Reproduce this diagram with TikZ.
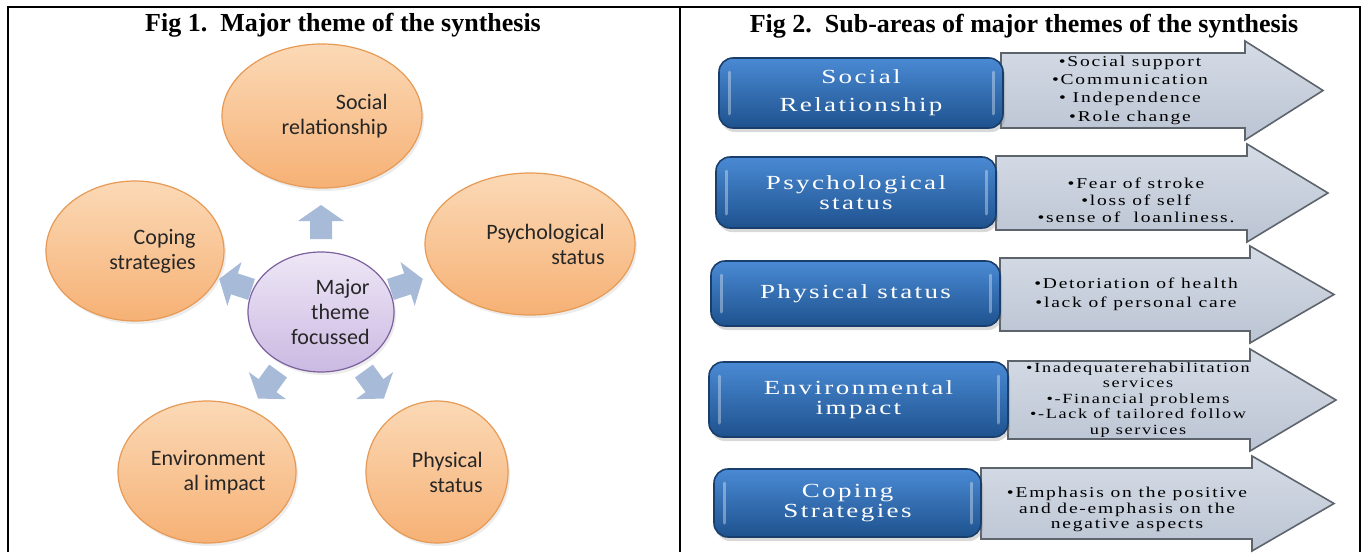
\documentclass[tikz,border=0pt]{standalone}
\usepackage{fontspec}
\setmainfont{Liberation Serif}
\newfontfamily\calibri{Carlito}
\newfontfamily\boxfont[FakeStretch=1.35,LetterSpace=12]{Liberation Serif}
\newfontfamily\listfont[FakeStretch=1.3,LetterSpace=12]{Liberation Serif}
\usetikzlibrary{shapes.geometric,calc,shadows}

\definecolor{peach}{HTML}{FBD9B6}
\definecolor{peachdark}{HTML}{F6B175}
\definecolor{peachline}{HTML}{E69A55}
\definecolor{lilac}{HTML}{EEE7F6}
\definecolor{lilacdark}{HTML}{CBB9E2}
\definecolor{lilacline}{HTML}{7B5F9E}
\definecolor{spokeblue}{HTML}{A7BAD8}
\definecolor{boxtop}{HTML}{4A8AD4}
\definecolor{boxbottom}{HTML}{1E528E}
\definecolor{boxline}{HTML}{1A3E6B}
\definecolor{arrtop}{HTML}{D5DCE6}
\definecolor{arrmid}{HTML}{EEF1F6}
\definecolor{arrbottom}{HTML}{BBC4D3}
\definecolor{arrline}{HTML}{5E646C}

\tikzset{
themecirc/.style={ellipse, inner sep=0pt, draw=peachline, line width=.6pt,
  top color=peach, bottom color=peachdark,
  drop shadow={opacity=.15, shadow xshift=1pt, shadow yshift=-1.5pt}},
hubcirc/.style={themecirc, draw=lilacline, top color=lilac, bottom color=lilacdark},
themetext/.style={font=\calibri\fontsize{11}{12.5}\selectfont, text=black!85,
  align=right, anchor=east, inner sep=0pt},
figtitle/.style={font=\bfseries\fontsize{13}{15}\selectfont, anchor=base, inner sep=0pt},
themebox/.style={rounded corners=7pt, inner sep=0pt, draw=boxline, line width=.8pt,
  top color=boxtop, bottom color=boxbottom, text=white, align=center,
  font=\boxfont\fontsize{10}{10}\selectfont,
  drop shadow={opacity=.3, shadow xshift=1pt, shadow yshift=-2pt},
  path picture={
    \draw[white, opacity=.35, line width=1.5pt, line cap=round]
      ([xshift=5pt,yshift=-7pt]path picture bounding box.north west) --
      ([xshift=5pt,yshift=7pt]path picture bounding box.south west);
    \draw[white, opacity=.35, line width=1.5pt, line cap=round]
      ([xshift=-5pt,yshift=-7pt]path picture bounding box.north east) --
      ([xshift=-5pt,yshift=7pt]path picture bounding box.south east);
  }},
subarrow/.style={draw=arrline, line width=.8pt, line join=miter,
  top color=arrtop, middle color=arrmid, bottom color=arrbottom},
subtext/.style={font=\listfont\fontsize{7.5}{#1}\selectfont, align=center, inner sep=0pt},
pics/spoke/.style={code={
  \fill[spokeblue] (-17,-11) -- (1,-11) -- (1,-23) -- (17,0) -- (1,23) -- (1,11) -- (-17,11) -- cycle;
}},
}

\begin{document}
\begin{tikzpicture}[x=0.5pt,y=-0.5pt]
\useasboundingbox (0,0) rectangle (1366,552);
% frame
\draw[line width=1.25pt] (8,552) -- (8,7) -- (1360,7) -- (1360,552);
\draw[line width=1.25pt] (680,7) -- (680,552);

% Fig 1
\node[figtitle] (fig1) at (343,31) {Fig 1.\ \ Major theme of the synthesis};
\foreach \n/\x/\y/\w/\h/\d/\txt in {
  social/322/116/100/72/33/{Social\\relationship},
  psych/530/244/105/71/37.5/{Psychological\\status},
  coping/135/251/89/70/30.5/{Coping\\strategies},
  env/207/472/89/71/29.5/{Environment\\al impact},
  phys/437/472/71/71/23/{Physical\\status}} {
  \node[themecirc, minimum width=\w pt, minimum height=\h pt] (\n) at (\x,\y) {};
  \node[themetext] (\n-t) at ([xshift=\d pt]\n.center) {\txt};
}
\node[hubcirc, minimum width=73pt, minimum height=60pt] (hub) at (321,312) {};
\node[themetext] (hub-t) at ([xshift=24.5pt]hub.center) {Major\\theme\\focussed};
\foreach \a in {90,18,-54,-126,162}
  \pic[rotate=\a] at ($(hub.center)+(\a:45pt)$) {spoke};

% Fig 2
\node[figtitle] (fig2) at (1024,32) {Fig 2.\ \ Sub-areas of major themes of the synthesis};
\foreach \t/\b/\l/\h/\e in {53/128/1001/1245/1323, 156/230/996/1247/1328,
  258/331/1000/1250/1334, 361/439/1008/1250/1336, 468/539/981/1252/1334}
  \draw[subarrow] (\l,\t) -- (\h,\t) -- (\h,{\t-12}) -- (\e,{(\t+\b)/2})
    -- (\h,{\b+12}) -- (\h,\b) -- (\l,\b) -- cycle;

\node[themebox, minimum width=142pt, minimum height=35pt] (box1) at (861,93) {Social\\[4pt]Relationship};
\node[themebox, minimum width=140pt, minimum height=35.5pt] (box2) at (856,192.5) {Psychological\\status};
\node[themebox, minimum width=144.5pt, minimum height=32.5pt] (box3) at (855.5,293.5) {Physical status};
\node[themebox, minimum width=149.5pt, minimum height=37.5pt] (box4) at (858.5,399.5) {Environmental\\impact};
\node[themebox, minimum width=133.5pt, minimum height=34pt] (box5) at (847.5,503) {Coping\\Strategies};

\node[subtext=9.15pt] (sub1) at (1130,90) {•Social support\\•Communication\\• Independence\\•Role change};
\node[subtext=8.5pt] (sub2) at (1136,200) {•Fear of stroke\\•loss of self\\•sense of\ \ loanliness.};
\node[subtext=9.5pt] (sub3) at (1136,294.5) {•Detoriation of health\\•lack of personal care};
\node[subtext=7.75pt, font=\listfont\fontsize{7}{7.75}\selectfont] (sub4) at (1138,400)
  {•Inadequaterehabilitation\\services\\•-Financial problems\\•-Lack of tailored follow\\up services};
\node[subtext=7.75pt] (sub5) at (1127,509.5) {•Emphasis on the positive\\and de-emphasis on the\\negative aspects};
\end{tikzpicture}
\end{document}
